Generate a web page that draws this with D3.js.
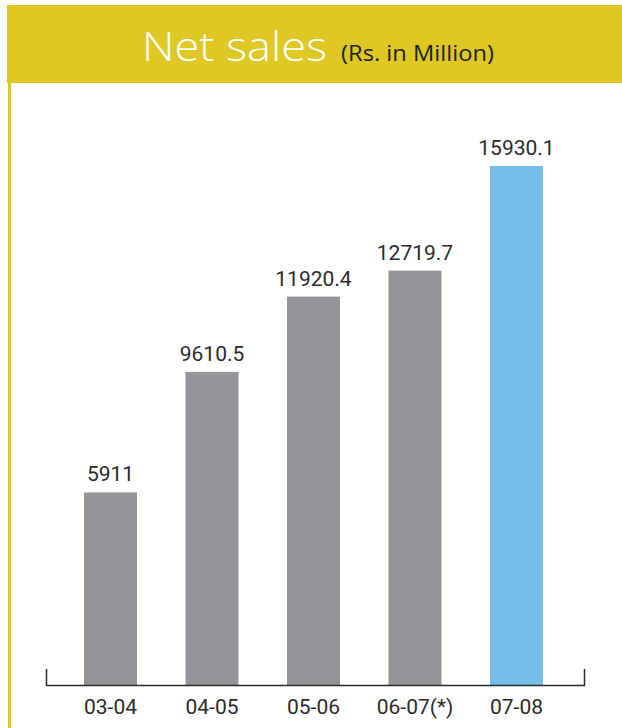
<!DOCTYPE html>
<html>
<head>
<meta charset="utf-8">
<script src="https://cdn.jsdelivr.net/npm/d3@7"></script>
<style>
  html, body { margin: 0; padding: 0; background: #fff; }
  svg { display: block; }
</style>
</head>
<body>
<svg id="chart" width="622" height="728"></svg>
<script>
// Net sales by financial year (Rs. in Million)
const years = ["03-04", "04-05", "05-06", "06-07(*)", "07-08"];
const sales = [5911, 9610.5, 11920.4, 12719.7, 15930.1];
const valueLabels = ["5911", "9610.5", "11920.4", "12719.7", "15930.1"];
const highlightYear = "07-08";

const svg = d3.select("#chart");
const W = 622, H = 728;
const yellow = "#DFC823";

// header band and the left rule running down the page
svg.append("rect").attr("x", 7).attr("y", 5).attr("width", W - 7).attr("height", 78).attr("fill", yellow);
svg.append("rect").attr("x", 8).attr("y", 83).attr("width", 3).attr("height", H - 83).attr("fill", yellow);

// title in a slightly extended face
svg.append("text")
  .attr("transform", "translate(142,61) scale(1.1,1)")
  .attr("font-family", "'Open Sans', sans-serif")
  .attr("font-size", 41).attr("font-weight", 300).attr("fill", "#fff")
  .text("Net sales");
svg.append("text")
  .attr("transform", "translate(341,61) scale(1.13,1)")
  .attr("font-family", "'Open Sans', sans-serif")
  .attr("font-size", 21).attr("font-weight", 400).attr("fill", "#222")
  .text("(Rs. in Million)");

// scales
const baseY = 685;
const x = d3.scaleBand()
  .domain(years)
  .range([59.75, 567.25])
  .paddingInner(0.478)
  .paddingOuter(0.239);
const y = d3.scaleLinear()
  .domain([0, 15930.1])
  .range([baseY, 166]);

const data = years.map((yr, i) => ({ yr, v: sales[i], label: valueLabels[i] }));

svg.append("g").selectAll("rect")
  .data(data).join("rect")
  .attr("x", d => x(d.yr))
  .attr("y", d => y(d.v))
  .attr("width", x.bandwidth())
  .attr("height", d => baseY - y(d.v))
  .attr("fill", d => d.yr === highlightYear ? "#76BDE8" : "#939598");

svg.append("g").selectAll("text")
  .data(data).join("text")
  .attr("x", d => x(d.yr) + x.bandwidth() / 2)
  .attr("y", d => y(d.v) - 11)
  .attr("text-anchor", "middle")
  .attr("font-family", "Roboto, sans-serif")
  .attr("font-size", 21)
  .attr("fill", "#2b2b2b")
  .text(d => d.label);

// baseline with end ticks
svg.append("path")
  .attr("d", `M46.5,669 V${baseY + 0.5} H584.5 V669`)
  .attr("fill", "none")
  .attr("stroke", "#2b2b2b")
  .attr("stroke-width", 1.5);

// category labels
const xAxis = d3.axisBottom(x).tickSize(0).tickPadding(0);
const gx = svg.append("g").attr("transform", `translate(0,${baseY})`).call(xAxis);
gx.select(".domain").remove();
gx.selectAll("text")
  .attr("dy", null)
  .attr("y", 29)
  .attr("font-family", "Roboto, sans-serif")
  .attr("font-size", 21)
  .attr("fill", "#2b2b2b");
</script>
</body>
</html>
